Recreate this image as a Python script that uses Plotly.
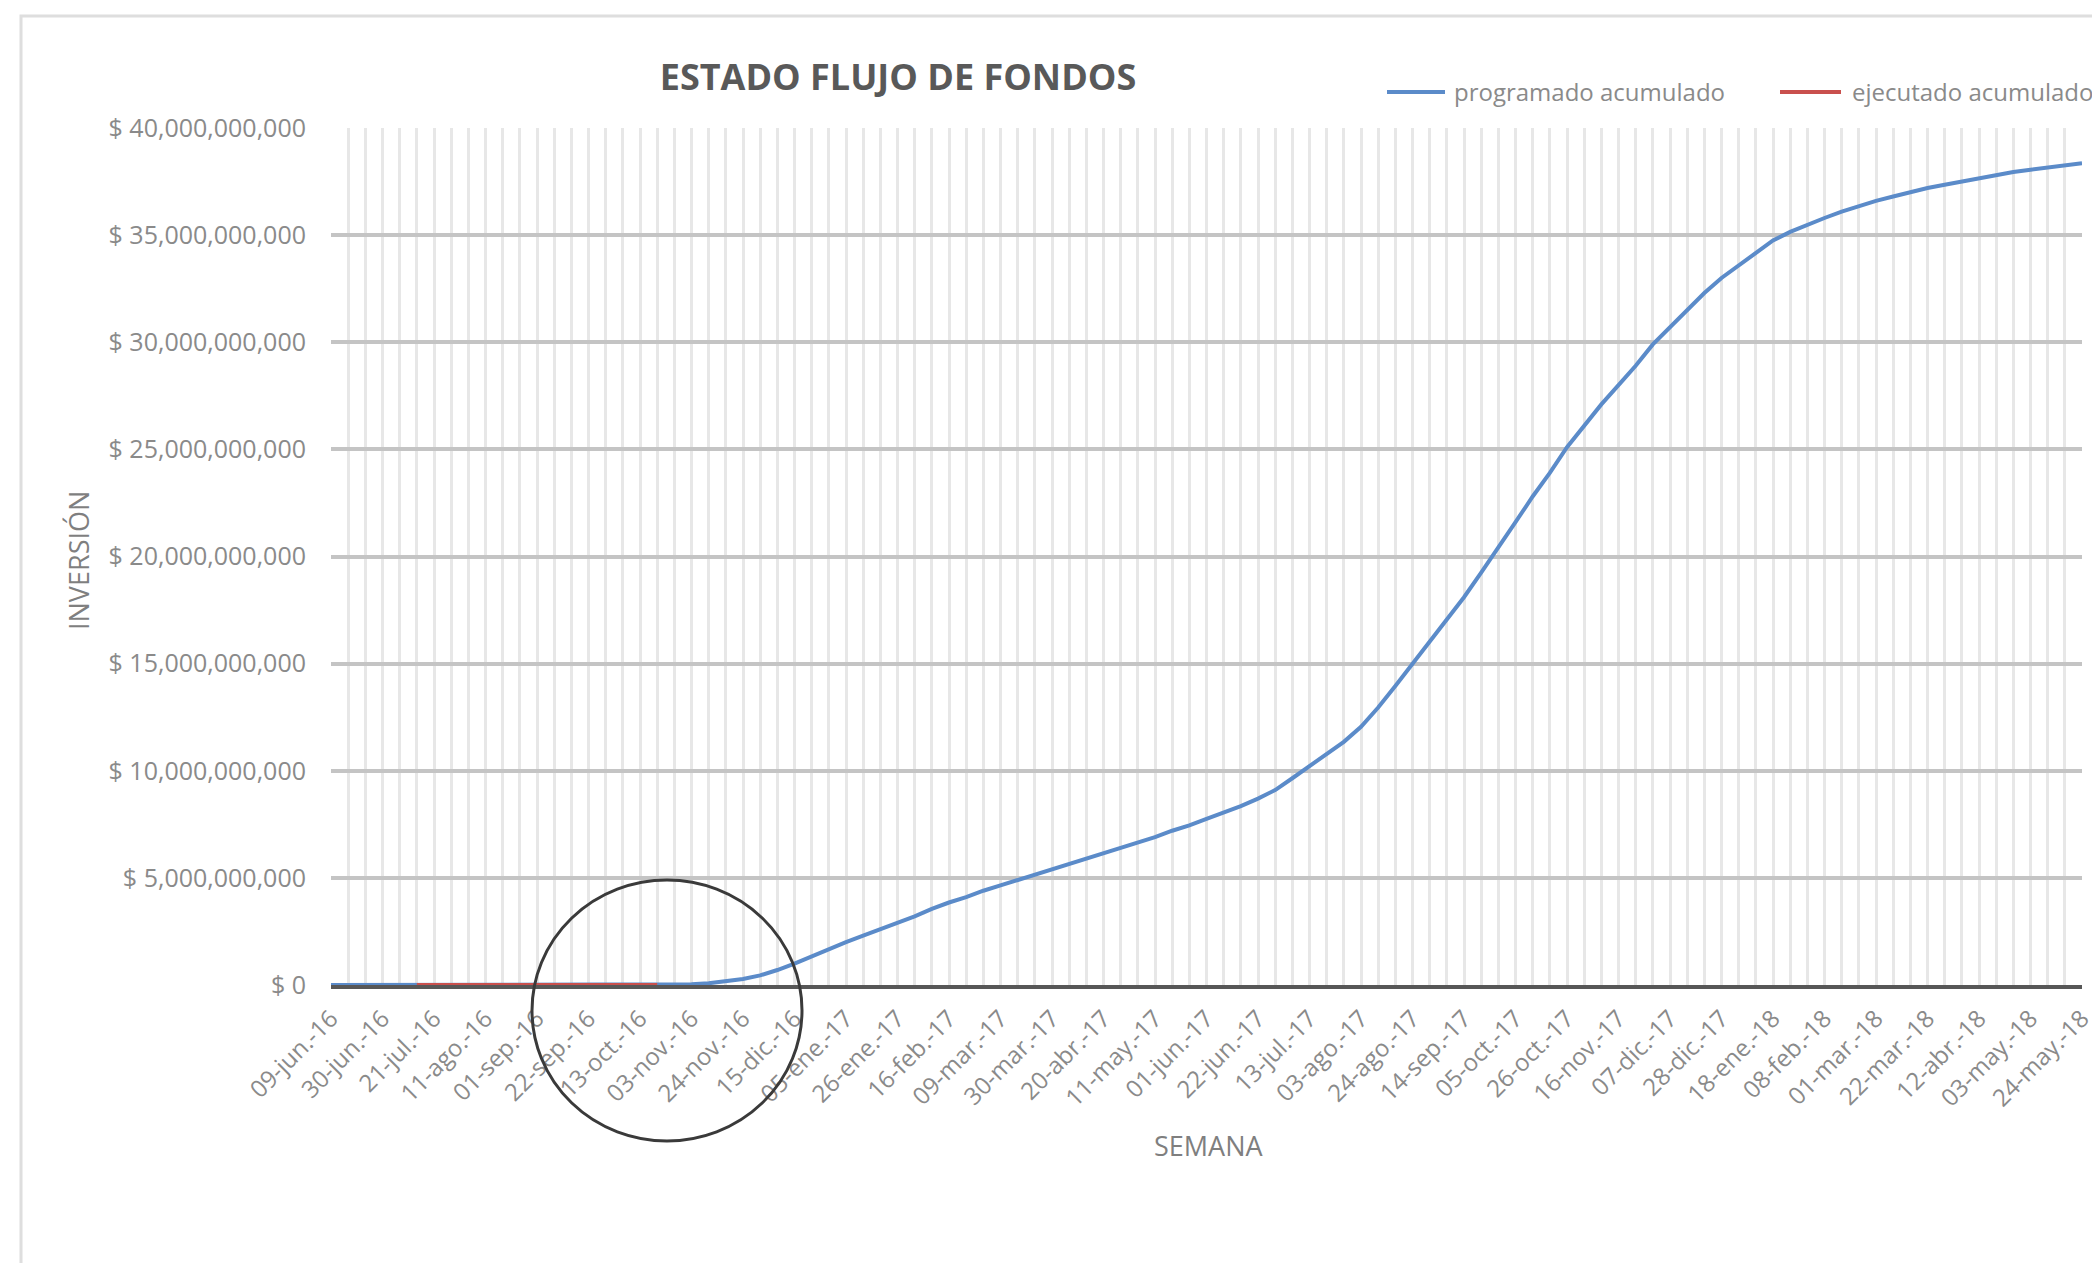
import datetime as dt
import plotly.graph_objects as go

# ---- data ----
fecha_inicio = dt.date(2016, 6, 9)
n_semanas = 103
meses = ["ene", "feb", "mar", "abr", "may", "jun", "jul", "ago", "sep", "oct", "nov", "dic"]
semanas = []
for k in range(n_semanas):
    d = fecha_inicio + dt.timedelta(weeks=k)
    semanas.append(f"{d.day:02d}-{meses[d.month - 1]}.-{d.year % 100:02d}")

# programado acumulado (miles de millones de $)
programado_mm = [
    0, 0, 0, 0, 0, 0, 0, 0, 0, 0, 0, 0, 0, 0, 0, 0, 0, 0, 0, 0, 0,
    0.03, 0.08, 0.16, 0.28, 0.45, 0.7, 1.0, 1.35, 1.7, 2.0,
    2.3, 2.6, 2.9, 3.2, 3.55, 3.85, 4.1, 4.4, 4.65, 4.9,
    5.15, 5.4, 5.65, 5.9, 6.15, 6.4, 6.65, 6.9, 7.2, 7.45,
    7.75, 8.05, 8.35, 8.7, 9.1, 9.65, 10.2, 10.75, 11.35, 12.05,
    12.95, 13.95, 15.0, 16.05, 17.1, 18.1, 19.25, 20.4, 21.6, 22.8,
    23.9, 25.1, 26.1, 27.1, 28.0, 28.9, 29.9, 30.7, 31.5, 32.3,
    33.0, 33.6, 34.2, 34.75, 35.15, 35.5, 35.8, 36.1, 36.35, 36.6,
    36.8, 37.0, 37.2, 37.35, 37.5, 37.65, 37.8, 37.95, 38.05, 38.15,
    38.25, 38.35,
]
# ejecutado acumulado (miles de millones de $)
ejecutado_mm = (
    [None, None, None, None, None]
    + [0, 0, 0, 0, 0, 0, 0, 0, 0, 0, 0, 0, 0, 0, 0]
    + [None] * 83
)

y_ticks = [0, 5e9, 10e9, 15e9, 20e9, 25e9, 30e9, 35e9, 40e9]
y_tick_labels = ["$ 0", "$ 5,000,000,000", "$ 10,000,000,000", "$ 15,000,000,000",
                 "$ 20,000,000,000", "$ 25,000,000,000", "$ 30,000,000,000",
                 "$ 35,000,000,000", "$ 40,000,000,000"]

series_names = ["programado acumulado", "ejecutado acumulado"]
series_colors = ["#5b8bc9", "#c9504d"]

programado = [v * 1e9 for v in programado_mm]
ejecutado = [None if v is None else v * 1e9 for v in ejecutado_mm]
idx = list(range(n_semanas))

FONT = "Open Sans"
GRAY = "#8a8a8a"

fig = go.Figure()
fig.add_trace(go.Scatter(x=idx, y=programado, mode="lines", name=series_names[0],
                         line=dict(color=series_colors[0], width=4)))
fig.add_trace(go.Scatter(x=idx, y=ejecutado, mode="lines", name=series_names[1],
                         line=dict(color=series_colors[1], width=4)))

W, H = 2100, 1263
L, R, T, B = 323, 26, 120, 286
pw, ph = W - L - R, H - T - B

def px_x(p):
    return (p - L) / pw

def px_y(p):
    return (H - B - p) / ph

# manual legend (line samples + text)
legend_y = 84
legend_items = [(1379, 1437, 1444), (1772, 1833, 1842)]
shapes = [
    dict(type="rect", xref="paper", yref="paper", x0=px_x(13), x1=px_x(2120),
         y0=px_y(1290), y1=px_y(8), line=dict(color="#dedede", width=3), layer="below"),
    dict(type="circle", xref="paper", yref="paper", x0=px_x(524), x1=px_x(794),
         y0=px_y(1133), y1=px_y(872), line=dict(color="#3a3a3a", width=3), layer="above"),
]
annotations = [
    dict(text="SEMANA", xref="paper", yref="paper", x=px_x(1200), y=px_y(1137),
         xanchor="center", yanchor="middle", showarrow=False,
         font=dict(size=27, color="#7f7f7f", family=FONT)),
    dict(text="INVERSIÓN", xref="paper", yref="paper", x=px_x(70), y=px_y(553),
         xanchor="center", yanchor="middle", showarrow=False, textangle=-90,
         font=dict(size=27, color="#7f7f7f", family=FONT)),
]
for (x0, x1, xt), nm, col in zip(legend_items, series_names, series_colors):
    shapes.append(dict(type="line", xref="paper", yref="paper", x0=px_x(x0), x1=px_x(x1),
                       y0=px_y(legend_y), y1=px_y(legend_y), line=dict(color=col, width=4)))
    annotations.append(dict(text=nm, xref="paper", yref="paper", x=px_x(xt), y=px_y(legend_y),
                            xanchor="left", yanchor="middle", showarrow=False,
                            font=dict(size=24, color=GRAY, family=FONT)))

fig.update_layout(
    width=W, height=H,
    margin=dict(l=L, r=R, t=T, b=B),
    paper_bgcolor="white", plot_bgcolor="white",
    font=dict(family=FONT, color=GRAY),
    title=dict(text="<b>ESTADO FLUJO DE FONDOS</b>", x=px_x(890), xref="paper", xanchor="center",
               y=1 - 69 / H, yanchor="middle", font=dict(size=36, color="#595959", family=FONT)),
    showlegend=False,
    xaxis=dict(
        range=[0, n_semanas - 1],
        tickmode="array", tickvals=idx[::3], ticktext=semanas[::3],
        tickangle=-45, tickfont=dict(size=24, color=GRAY),
        showgrid=True, gridcolor="#e7e7e7", gridwidth=3,
        minor=dict(tickmode="linear", tick0=0, dtick=1, showgrid=True, gridcolor="#e7e7e7", gridwidth=3),
        showline=True, linecolor="#575757", linewidth=4,
        ticks="", zeroline=False, layer="below traces",
        ticklabelstandoff=6,
    ),
    yaxis=dict(
        range=[0, 40e9], tickmode="array", tickvals=y_ticks, ticktext=y_tick_labels,
        tickfont=dict(size=25, color=GRAY),
        showgrid=True, gridcolor="#c4c4c4", gridwidth=4,
        zeroline=False, showline=False, ticks="",
        ticklabelstandoff=24,
    ),
    annotations=annotations,
    shapes=shapes,
)

fig.write_html("out.html")
